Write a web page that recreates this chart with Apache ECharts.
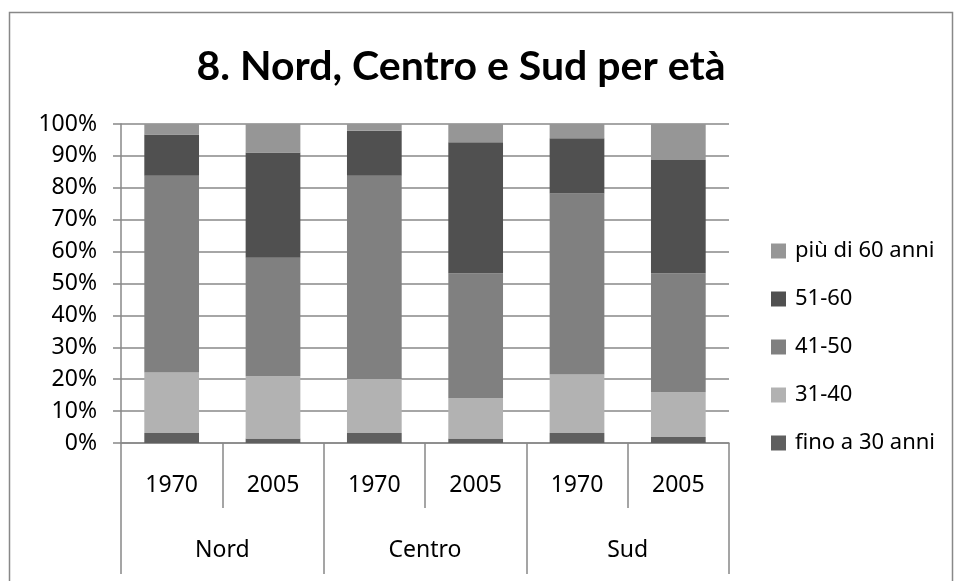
<!DOCTYPE html>
<html>
<head>
<meta charset="utf-8">
<script src="https://cdn.jsdelivr.net/npm/echarts@6/dist/echarts.min.js"></script>
<style>
  html, body { margin: 0; padding: 0; background: #fff; }
  #chart { width: 955px; height: 581px; }
</style>
</head>
<body>
<div id="chart"></div>
<script>
// dati (percentuali)
var anni = ['1970', '2005', '1970', '2005', '1970', '2005'];
var aree = ['Nord', 'Centro', 'Sud'];
var fino30 = [3.1, 1.4, 3.1, 1.4, 3.1, 1.9];
var da31a40 = [19.0, 19.5, 17.0, 12.6, 18.4, 14.0];
var da41a50 = [61.7, 37.2, 63.7, 39.2, 56.7, 37.3];
var da51a60 = [12.9, 33.0, 14.1, 41.1, 17.3, 35.5];
var oltre60 = [3.3, 8.9, 2.1, 5.7, 4.5, 11.3];
var yTicks = [0, 10, 20, 30, 40, 50, 60, 70, 80, 90, 100];

var font = 'Noto Sans';
var gridColor = '#888888';

var chart = echarts.init(document.getElementById('chart'));

function serie(nome, dati, colore) {
  return {
    name: nome,
    type: 'bar',
    stack: 'tot',
    barWidth: '54%',
    xAxisIndex: 0,
    data: dati,
    itemStyle: { color: colore },
    emphasis: { disabled: true }
  };
}

var option = {
  animation: false,
  backgroundColor: '#fff',
  title: {
    text: '8. Nord, Centro e Sud per età',
    left: 456,
    textAlign: 'center',
    top: 41,
    textStyle: { fontFamily: 'Lato', fontWeight: 'bold', fontSize: 41, color: '#000' }
  },
  graphic: [{
    type: 'rect',
    shape: { x: 9.5, y: 12.5, width: 943, height: 600 },
    style: { fill: null, stroke: '#888888', lineWidth: 1.5 },
    silent: true
  }],
  legend: {
    orient: 'vertical',
    left: 766,
    top: 235,
    icon: 'rect',
    itemWidth: 15,
    itemHeight: 15,
    itemGap: 26,
    data: ['più di 60 anni', '51-60', '41-50', '31-40', 'fino a 30 anni'],
    textStyle: { fontFamily: font, fontSize: 22, color: '#000', lineHeight: 22, padding: [0, 0, 0, 4] }
  },
  grid: { left: 121, right: 226, top: 124, bottom: 138 },
  xAxis: [{
    type: 'category',
    position: 'bottom',
    data: anni,
    axisLine: { show: true, lineStyle: { color: gridColor, width: 1.5 } },
    axisTick: { show: true, interval: 0, length: 65, lineStyle: { color: gridColor, width: 1.5 } },
    axisLabel: { interval: 0, margin: 31, fontFamily: font, fontSize: 23, color: '#000' }
  }, {
    type: 'category',
    position: 'bottom',
    data: aree,
    axisLine: { show: false },
    axisTick: { show: true, interval: 0, length: 131, lineStyle: { color: gridColor, width: 1.5 } },
    axisLabel: { interval: 0, margin: 96, fontFamily: font, fontSize: 23, color: '#000' }
  }],
  yAxis: {
    type: 'value',
    min: yTicks[0],
    max: yTicks[yTicks.length - 1],
    interval: 10,
    axisLine: { show: true, lineStyle: { color: gridColor, width: 1.5 } },
    axisTick: { show: true, length: 8, lineStyle: { color: gridColor, width: 1.5 } },
    splitLine: { lineStyle: { color: gridColor, width: 1.5 } },
    axisLabel: { margin: 24, fontFamily: font, fontSize: 23, color: '#000', formatter: '{value}%' }
  },
  series: [
    serie('fino a 30 anni', fino30, '#5f5f5f'),
    serie('31-40', da31a40, '#b2b2b2'),
    serie('41-50', da41a50, '#808080'),
    serie('51-60', da51a60, '#505050'),
    serie('più di 60 anni', oltre60, '#969696')
  ]
};

chart.setOption(option);
</script>
</body>
</html>
